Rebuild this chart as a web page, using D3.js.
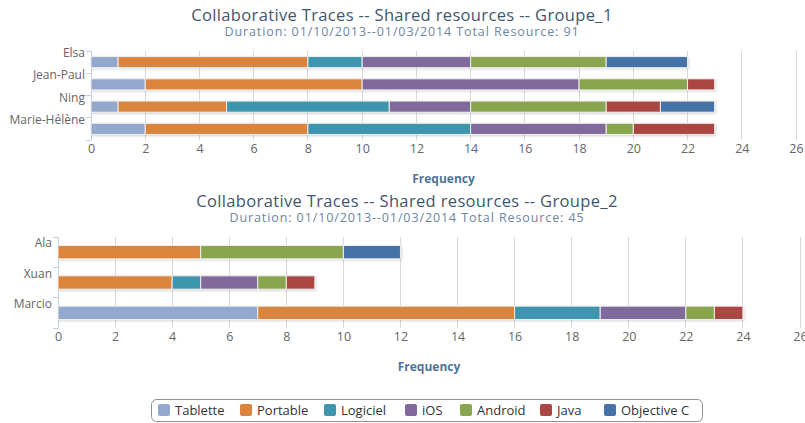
<!DOCTYPE html>
<html>
<head>
<meta charset="utf-8">
<script src="https://cdn.jsdelivr.net/npm/d3@7"></script>
<style>
  body { margin: 0; background: #fff; }
  svg { font-family: "Open Sans", sans-serif; }
</style>
</head>
<body>
<svg id="chart" width="805" height="423"></svg>
<script>
// Series (stack order) and their colours
const seriesNames = ['Tablette', 'Portable', 'Logiciel', 'iOS', 'Android', 'Java', 'Objective C'];
const seriesColors = ['#92A8CD', '#DB843D', '#3D96AE', '#80699B', '#89A54E', '#AA4643', '#4572A7'];

// Groupe_1: one row per person, one value per series
const group1Names = ['Elsa', 'Jean-Paul', 'Ning', 'Marie-Hélène'];
const group1Values = [
  [1, 7, 2, 4, 5, 0, 3],
  [2, 8, 0, 8, 4, 1, 0],
  [1, 4, 6, 3, 5, 2, 2],
  [2, 6, 6, 5, 1, 3, 0]
];

// Groupe_2
const group2Names = ['Ala', 'Xuan', 'Marcio'];
const group2Values = [
  [0, 5, 0, 0, 5, 0, 2],
  [0, 4, 1, 2, 1, 1, 0],
  [7, 9, 3, 3, 1, 1, 0]
];

const xTicks = [0, 2, 4, 6, 8, 10, 12, 14, 16, 18, 20, 22, 24, 26];
const titles = ['Collaborative Traces -- Shared resources -- Groupe_1',
                'Collaborative Traces -- Shared resources -- Groupe_2'];
const subtitles = ['Duration: 01/10/2013--01/03/2014 Total Resource: 91',
                   'Duration: 01/10/2013--01/03/2014 Total Resource: 45'];

const svg = d3.select('#chart');

// light shadow under the bars
const defs = svg.append('defs');
const f = defs.append('filter').attr('id', 'shadow')
  .attr('x', '-5%').attr('y', '-30%').attr('width', '110%').attr('height', '160%');
f.append('feDropShadow').attr('dx', 1).attr('dy', 1).attr('stdDeviation', 0.8)
  .attr('flood-color', '#000').attr('flood-opacity', 0.18);

function drawChart(opts) {
  const g = svg.append('g');

  g.append('text')
    .attr('x', opts.titleX).attr('y', opts.titleY)
    .attr('text-anchor', 'middle')
    .style('font-size', '16.5px').style('letter-spacing', '0.35px').style('fill', '#3E576F')
    .text(opts.title);

  g.append('text')
    .attr('x', opts.titleX).attr('y', opts.titleY + 15)
    .attr('text-anchor', 'middle')
    .style('font-size', '12.5px').style('letter-spacing', '0.9px').style('fill', '#6D869F')
    .text(opts.subtitle);

  const x = d3.scaleLinear().domain([0, 26]).range([opts.left, opts.right]);
  const y = d3.scaleBand().domain(opts.names).range([opts.top, opts.bottom])
    .paddingInner(opts.pad).paddingOuter(opts.pad / 2);
  const yOuter = d3.scaleBand().domain(opts.names).range([opts.top, opts.bottom]);

  // vertical grid lines
  g.append('g').selectAll('line').data(xTicks).join('line')
    .attr('x1', d => x(d)).attr('x2', d => x(d))
    .attr('y1', opts.top).attr('y2', opts.bottom)
    .attr('stroke', '#d8d8d8').attr('stroke-width', 1)
    .attr('shape-rendering', 'crispEdges');

  // bottom (value) axis
  const xAxis = g.append('g')
    .attr('transform', `translate(0,${opts.bottom})`)
    .call(d3.axisBottom(x).tickValues(xTicks).tickSize(0).tickPadding(4));
  xAxis.select('.domain').remove();
  xAxis.selectAll('text').style('font-size', '12.5px').style('fill', '#666')
    .style('font-family', '"Open Sans", sans-serif');

  g.append('text')
    .attr('x', (opts.left + opts.right) / 2).attr('y', opts.bottom + 43)
    .attr('text-anchor', 'middle')
    .style('font-size', '12px').style('font-weight', 'bold').style('fill', '#4d759e')
    .text('Frequency');

  // left (category) axis
  const yAxis = g.append('g')
    .attr('transform', `translate(${opts.left},0)`);
  yAxis.append('line')
    .attr('x1', 0).attr('x2', 0).attr('y1', opts.top).attr('y2', opts.bottom)
    .attr('stroke', '#C0D0E0').attr('shape-rendering', 'crispEdges');
  const bounds = opts.names.map(n => yOuter(n)).concat([opts.bottom]);
  yAxis.selectAll('.tick').data(bounds).join('line')
    .attr('x1', -5).attr('x2', 0)
    .attr('y1', d => d).attr('y2', d => d)
    .attr('stroke', '#C0D0E0').attr('shape-rendering', 'crispEdges');
  yAxis.selectAll('.lbl').data(opts.names).join('text')
    .attr('x', -6)
    .attr('y', d => y(d) + y.bandwidth() / 2 - 5)
    .attr('text-anchor', 'end')
    .style('font-size', '12px').style('fill', '#666')
    .text(d => d);

  // stacked bars
  const rows = opts.names.map((n, i) => {
    const r = { name: n };
    seriesNames.forEach((s, j) => { r[s] = opts.values[i][j]; });
    return r;
  });
  const stacked = d3.stack().keys(seriesNames)(rows);

  const bars = g.append('g').attr('filter', 'url(#shadow)');
  stacked.forEach((layer, j) => {
    bars.append('g').attr('fill', seriesColors[j])
      .selectAll('rect').data(layer.filter(d => d[1] > d[0])).join('rect')
      .attr('x', d => x(d[0]))
      .attr('width', d => x(d[1]) - x(d[0]))
      .attr('y', d => y(d.data.name))
      .attr('height', y.bandwidth())
      .attr('stroke', '#eeeeee').attr('stroke-width', 1);
  });
}

drawChart({
  title: titles[0], subtitle: subtitles[0], titleX: 402, titleY: 21,
  names: group1Names, values: group1Values,
  left: 91, right: 796, top: 51, bottom: 140, pad: 0.5
});

drawChart({
  title: titles[1], subtitle: subtitles[1], titleX: 407, titleY: 207,
  names: group2Names, values: group2Values,
  left: 58, right: 800, top: 237, bottom: 328, pad: 0.56
});

// legend
const legend = svg.append('g');
legend.append('rect')
  .attr('x', 151.5).attr('y', 399.5).attr('width', 551).attr('height', 22)
  .attr('rx', 5).attr('fill', '#fff').attr('stroke', '#909090');
const legendX = [158, 240, 324, 405, 460, 540, 604];
const items = legend.selectAll('.item').data(seriesNames).join('g')
  .attr('transform', (d, i) => `translate(${legendX[i]},0)`);
items.append('rect')
  .attr('x', 0).attr('y', 404).attr('width', 12).attr('height', 12).attr('rx', 2)
  .attr('fill', (d, i) => seriesColors[i]);
items.append('text')
  .attr('x', 17).attr('y', 415)
  .style('font-size', '13px').style('fill', '#333')
  .text(d => d);
</script>
</body>
</html>
